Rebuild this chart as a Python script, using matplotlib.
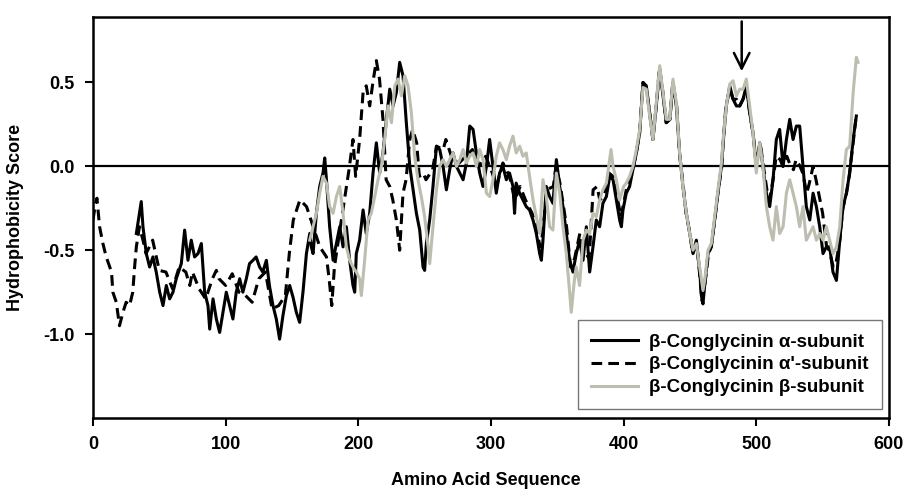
import matplotlib
matplotlib.use("Agg")
import matplotlib.pyplot as plt

plt.rcParams["font.family"] = ["Liberation Sans", "DejaVu Sans"]
plt.rcParams["font.weight"] = "bold"

# alpha-subunit (solid)
alpha_x = [32.7, 36.4, 37.7, 40.2, 42.7, 45.2, 47.7, 50.3, 52.8, 55.3, 57.8, 60.3, 62.8, 66.6,
           69.1, 71.6, 74.1, 76.6, 79.2, 81.7, 84.2, 86.7, 88, 90.5, 93, 95.5, 98, 100.5, 103,
           105.5, 108, 110.6, 113, 115.6, 118, 120.6, 123, 125.6, 128, 130.7, 133, 135.7, 138.2,
           140.7, 143.2, 145.8, 148.3, 150.8, 153.3, 155.8, 158.3, 160.9, 163.4, 164.6, 165.9,
           168.4, 170.9, 173.4, 174.7, 176, 178.4, 181, 183.5, 186, 188.5, 191, 193.5, 196, 197.3,
           198.5, 201, 203.6, 206, 208.6, 211.1, 213.6, 216.1, 218.6, 221.2, 223.7, 226.2, 228.7,
           231.2, 233.7, 236.2, 238.8, 241.3, 243.8, 246.3, 248.8, 250, 251.3, 253.8, 256.3, 258.9,
           261.4, 263.9, 266.4, 268.9, 271.4, 274, 276.5, 279, 281.5, 284, 286.5, 289, 291.5, 294,
           296.6, 299, 301.5, 304, 306.5, 309, 311.6, 314, 316.6, 317.8, 319, 321.6, 324.1, 326.6,
           329.1, 331.7, 334.2, 336.7, 338, 339.2, 341.7, 344.2, 346.7, 349.3, 351.8, 354.3, 356.8,
           359.3, 361.8, 364.3, 366.8, 369.4, 371.9, 374.4, 376.9, 379.4, 381.9, 384.4, 387, 389.5,
           392, 394.5, 397, 398.3, 399.5, 402, 404.5, 407, 409.6, 412.1, 414.6, 417.1, 419.6, 422.1,
           424.6, 427.2, 429.7, 432.2, 434.7, 437.2, 439.7, 442.2, 444.7, 447.3, 449.8, 452.3,
           454.8, 457.3, 458.6, 459.8, 461.1, 463.6, 466.1, 468.6, 471.1, 473.7, 475, 477.4, 480,
           482.5, 485, 487.5, 490, 492.5, 495, 497.5, 500, 502.6, 505, 507.6, 510.1, 512.6, 515.1,
           517.6, 520.2, 522.7, 525.2, 527.7, 530.2, 532.7, 535.2, 537.7, 540.3, 542.8, 545.3,
           547.8, 550.3, 552.8, 555.3, 557.8, 560.4, 562.9, 565.4, 567.9, 570.4, 573, 575.4]
alpha_y = [-0.40, -0.21, -0.36, -0.52, -0.60, -0.54, -0.63, -0.75, -0.83, -0.71, -0.79, -0.75,
           -0.67, -0.58, -0.38, -0.56, -0.44, -0.54, -0.52, -0.46, -0.75, -0.83, -0.97, -0.79,
           -0.91, -0.99, -0.87, -0.75, -0.83, -0.91, -0.75, -0.67, -0.75, -0.67, -0.58, -0.56,
           -0.54, -0.60, -0.63, -0.56, -0.71, -0.83, -0.91, -1.03, -0.89, -0.77, -0.71, -0.78,
           -0.87, -0.93, -0.75, -0.52, -0.40, -0.48, -0.52, -0.28, -0.12, -0.04, 0.05, -0.08,
           -0.36, -0.56, -0.46, -0.36, -0.48, -0.36, -0.56, -0.71, -0.75, -0.52, -0.44, -0.26,
           -0.40, -0.28, -0.04, 0.14, -0.04, 0.08, 0.28, 0.46, 0.36, 0.44, 0.62, 0.54, 0.26, 0.00,
           -0.14, -0.28, -0.38, -0.60, -0.62, -0.46, -0.32, -0.12, 0.12, 0.10, 0.00, -0.14, -0.02,
           0.08, 0.00, -0.04, -0.08, 0.02, 0.24, 0.22, 0.08, -0.04, -0.12, 0.00, 0.16, 0.00,
           -0.16, -0.04, 0.00, -0.08, -0.04, -0.12, -0.28, -0.10, -0.16, -0.20, -0.24, -0.26,
           -0.32, -0.40, -0.52, -0.56, -0.44, -0.12, -0.18, -0.22, 0.04, -0.12, -0.24, -0.40,
           -0.56, -0.63, -0.52, -0.44, -0.56, -0.36, -0.63, -0.48, -0.32, -0.36, -0.22, -0.18,
           -0.06, -0.08, -0.20, -0.32, -0.36, -0.26, -0.16, -0.12, -0.02, 0.08, 0.20, 0.50, 0.48,
           0.32, 0.16, 0.36, 0.58, 0.42, 0.26, 0.28, 0.50, 0.36, 0.08, -0.12, -0.28, -0.40, -0.52,
           -0.44, -0.62, -0.77, -0.82, -0.71, -0.52, -0.48, -0.32, -0.16, 0.00, 0.14, 0.36, 0.48,
           0.40, 0.36, 0.36, 0.40, 0.48, 0.32, 0.20, 0.00, 0.14, 0.00, -0.16, -0.24, -0.08, 0.16,
           0.22, 0.00, 0.16, 0.28, 0.16, 0.24, 0.24, 0.00, -0.24, -0.32, -0.16, -0.24, -0.36,
           -0.52, -0.48, -0.48, -0.63, -0.68, -0.44, -0.24, -0.16, -0.04, 0.16, 0.30]

# alpha'-subunit (dashed)
alphap_x = [0, 2, 3, 5, 7.5, 10, 14, 15, 17.6, 20, 22.6, 25, 27.6, 30, 31.4, 32.7, 35, 37.7, 40,
            45, 50, 55, 60, 65, 70, 73, 75, 80, 85, 90, 93, 95, 100, 105, 110, 115, 120, 125,
            130, 135, 140, 145, 148, 151, 156, 161, 166, 171, 176, 178, 180, 182, 188, 193, 196,
            198, 201, 203.6, 206, 208.6, 211, 213.6, 216, 218.6, 221, 223.7, 226, 228.7, 231.2,
            233.7, 236, 238.8, 241, 244, 246, 249, 251, 256, 259, 264, 266, 271, 276, 281, 286,
            291, 296, 301, 304, 309, 314, 318, 322, 326, 331, 334, 337, 339, 342, 347, 349, 352,
            357, 360, 363, 367, 370, 374, 377, 380, 382, 385, 389, 392, 395, 398, 400, 402, 407,
            410, 412, 414.6, 417, 419.6, 422, 424.6, 427, 430, 432, 435, 437, 440, 442, 445, 447,
            450, 452, 455, 457, 459, 461, 464, 466, 469, 471, 474, 475, 477, 480, 482.5, 485,
            487.5, 490, 492.5, 495, 497.5, 500, 503, 505, 508, 510, 513, 515, 518, 520, 523, 525,
            528, 530, 533, 535, 538, 540, 542.8, 545, 548, 550, 553, 555, 558, 560, 563, 565, 568,
            570, 573, 575]
alphap_y = [-0.32, -0.22, -0.19, -0.36, -0.46, -0.54, -0.63, -0.75, -0.81, -0.95, -0.87, -0.81,
            -0.83, -0.75, -0.60, -0.48, -0.36, -0.44, -0.52, -0.44, -0.62, -0.63, -0.73, -0.60,
            -0.63, -0.71, -0.63, -0.73, -0.79, -0.67, -0.62, -0.67, -0.71, -0.64, -0.75, -0.77,
            -0.81, -0.67, -0.63, -0.85, -0.83, -0.77, -0.52, -0.32, -0.20, -0.24, -0.36, -0.48,
            -0.54, -0.67, -0.83, -0.60, -0.28, -0.02, 0.16, -0.06, 0.16, 0.44, 0.48, 0.36, 0.50,
            0.63, 0.52, 0.28, -0.08, -0.12, -0.20, -0.32, -0.50, -0.16, -0.08, 0.16, 0.22, 0.14,
            -0.06, -0.04, -0.08, -0.02, 0.12, 0.10, 0.16, 0.04, 0.02, 0.06, 0.10, 0.00, 0.06,
            -0.04, -0.12, 0.02, -0.06, -0.20, -0.12, -0.20, -0.28, -0.36, -0.48, -0.40, -0.14,
            -0.12, 0.00, -0.10, -0.36, -0.60, -0.55, -0.40, -0.50, -0.55, -0.14, -0.12, -0.20,
            -0.18, -0.04, -0.06, -0.18, -0.30, -0.22, -0.14, -0.02, 0.10, 0.20, 0.50, 0.47, 0.32,
            0.16, 0.36, 0.59, 0.42, 0.26, 0.28, 0.50, 0.36, 0.08, -0.12, -0.28, -0.40, -0.52,
            -0.46, -0.62, -0.80, -0.72, -0.52, -0.48, -0.30, -0.16, 0.00, 0.14, 0.35, 0.46, 0.40,
            0.40, 0.36, 0.40, 0.46, 0.32, 0.20, 0.02, 0.14, 0.02, -0.14, -0.20, -0.06, 0.06, 0.04,
            0.00, 0.06, 0.02, -0.02, 0.04, 0.00, -0.04, -0.16, -0.10, 0.00, -0.08, -0.20, -0.28,
            -0.48, -0.50, -0.60, -0.58, -0.44, -0.26, -0.16, -0.06, 0.14, 0.28]

# beta-subunit (grey)
beta_x = [163.4, 165.9, 168.4, 170.9, 173.4, 176, 178.4, 181, 183.5, 186, 188.5, 191, 193.5,
          196, 198.5, 201, 202.3, 204.8, 207.3, 209.8, 212.4, 214.9, 217.4, 219.9, 222.4, 225,
          227.5, 230, 232.5, 235, 237.5, 240, 242.5, 245, 247.5, 250, 252.6, 253.8, 256.3, 258.9,
          261.4, 263.9, 266.4, 268.9, 271.4, 274, 276.5, 279, 281.5, 284, 286.5, 289, 291.5, 294,
          296.6, 299, 301.5, 304, 306.5, 309, 311.6, 314, 316.6, 319, 321.6, 324.1, 326.6, 329.1,
          331.7, 334.2, 336.7, 339.2, 341.7, 344.2, 346.7, 349.3, 351.8, 354.3, 356.8, 359.3,
          360.5, 363, 364.3, 366.8, 369.4, 371.9, 374.4, 376.9, 379.4, 381.9, 384.4, 387, 390.5,
          392, 394.5, 397, 400, 402, 404.5, 407, 409.6, 412.1, 414.6, 417.1, 419.6, 422.1, 424.6,
          427.2, 429.7, 432.2, 434.7, 437.2, 439.7, 442.2, 444.7, 447.3, 449.8, 452.3, 454.8,
          457.3, 459.8, 461.1, 463.6, 466.1, 468.6, 471.1, 473.7, 475, 477.4, 480, 482.5, 485,
          487.5, 490, 492.5, 495, 497.5, 500, 502.6, 505, 507.6, 510.1, 512.6, 515.1, 517.6,
          520.2, 522.7, 525.2, 527.7, 530.2, 532.7, 535.2, 537.7, 540.3, 542.8, 545.3, 547.8,
          550.3, 552.8, 555.3, 557.8, 560.4, 562.9, 565.4, 567.9, 570.4, 573, 575.4, 576.7]
beta_y = [-0.44, -0.36, -0.28, -0.16, -0.06, -0.10, -0.24, -0.28, -0.18, -0.12, -0.28, -0.48,
          -0.56, -0.60, -0.63, -0.67, -0.77, -0.56, -0.32, -0.28, -0.18, -0.08, 0.00, 0.16, 0.36,
          0.26, 0.48, 0.52, 0.42, 0.54, 0.48, 0.32, 0.06, -0.08, -0.18, -0.30, -0.48, -0.58,
          -0.36, -0.14, 0.00, 0.04, 0.00, 0.04, 0.08, 0.00, 0.04, 0.10, 0.02, 0.06, 0.08, 0.00,
          0.10, 0.04, -0.16, -0.18, -0.08, 0.06, 0.14, 0.10, 0.04, 0.12, 0.18, 0.08, 0.12, 0.06,
          0.08, -0.06, -0.20, -0.30, -0.40, -0.08, -0.18, -0.36, -0.38, -0.04, -0.16, -0.36,
          -0.52, -0.75, -0.87, -0.67, -0.60, -0.71, -0.44, -0.38, -0.40, -0.28, -0.30, -0.20,
          -0.14, -0.10, 0.10, 0.00, -0.08, -0.20, -0.12, -0.10, -0.06, 0.00, 0.10, 0.22, 0.47,
          0.46, 0.30, 0.16, 0.38, 0.60, 0.44, 0.28, 0.28, 0.52, 0.38, 0.08, -0.12, -0.28, -0.40,
          -0.50, -0.46, -0.60, -0.74, -0.68, -0.50, -0.46, -0.30, -0.14, 0.02, 0.16, 0.36, 0.49,
          0.51, 0.42, 0.46, 0.46, 0.52, 0.36, 0.20, -0.04, 0.14, 0.00, -0.24, -0.36, -0.44,
          -0.24, -0.40, -0.36, -0.16, -0.08, -0.16, -0.24, -0.36, -0.24, -0.44, -0.40, -0.36,
          -0.44, -0.40, -0.44, -0.36, -0.44, -0.52, -0.48, -0.36, -0.08, 0.10, 0.12, 0.44, 0.65,
          0.62]

labels = ["\u03b2-Conglycinin \u03b1-subunit",
          "\u03b2-Conglycinin \u03b1'-subunit",
          "\u03b2-Conglycinin \u03b2-subunit"]
arrow_x = 489

fig = plt.figure(figsize=(9.06, 4.90), dpi=100)
ax = fig.add_axes([0.1026, 0.1469, 0.8786, 0.8184])

ax.plot(alpha_x, alpha_y, color="black", lw=2.2, solid_joinstyle="round", label=labels[0])
ax.plot(alphap_x, alphap_y, color="black", lw=2.2, ls=(0, (3.5, 2)), label=labels[1])
ax.plot(beta_x, beta_y, color="#bdbdb0", lw=2.2, solid_joinstyle="round", label=labels[2])
ax.axhline(0, color="black", lw=1.6, zorder=1)

ax.annotate("", xy=(arrow_x, 0.55), xytext=(arrow_x, 0.88),
            arrowprops=dict(arrowstyle="->", lw=1.8, color="black", mutation_scale=28))

ax.set_xlim(0, 600)
ax.set_ylim(-1.5, 0.89)
ax.set_xticks(range(0, 601, 100))
ax.set_yticks([-1.0, -0.5, 0.0, 0.5])
ax.set_yticklabels(["-1.0", "-0.5", "0.0", "0.5"])
ax.tick_params(direction="out", length=6, width=1.5, labelsize=13, pad=7)
for lab in ax.get_xticklabels() + ax.get_yticklabels():
    lab.set_fontweight("bold")
for sp in ax.spines.values():
    sp.set_linewidth(1.8)

ax.set_ylabel("Hydrophobicity Score", fontsize=13, fontweight="bold", labelpad=14)
fig.text(0.536, 1 - 480 / 490, "Amino Acid Sequence", ha="center", va="center",
         fontsize=13, fontweight="bold")

leg = ax.legend(loc="lower right", bbox_to_anchor=(0.991, 0.022), borderaxespad=0,
                fancybox=False, edgecolor="#555555", fontsize=13.5, handlelength=2.5,
                labelspacing=0.3, borderpad=0.7, handletextpad=0.6)
leg.get_frame().set_linewidth(1.0)
for t in leg.get_texts():
    t.set_fontweight("bold")

fig.savefig("out.png", dpi=100)
